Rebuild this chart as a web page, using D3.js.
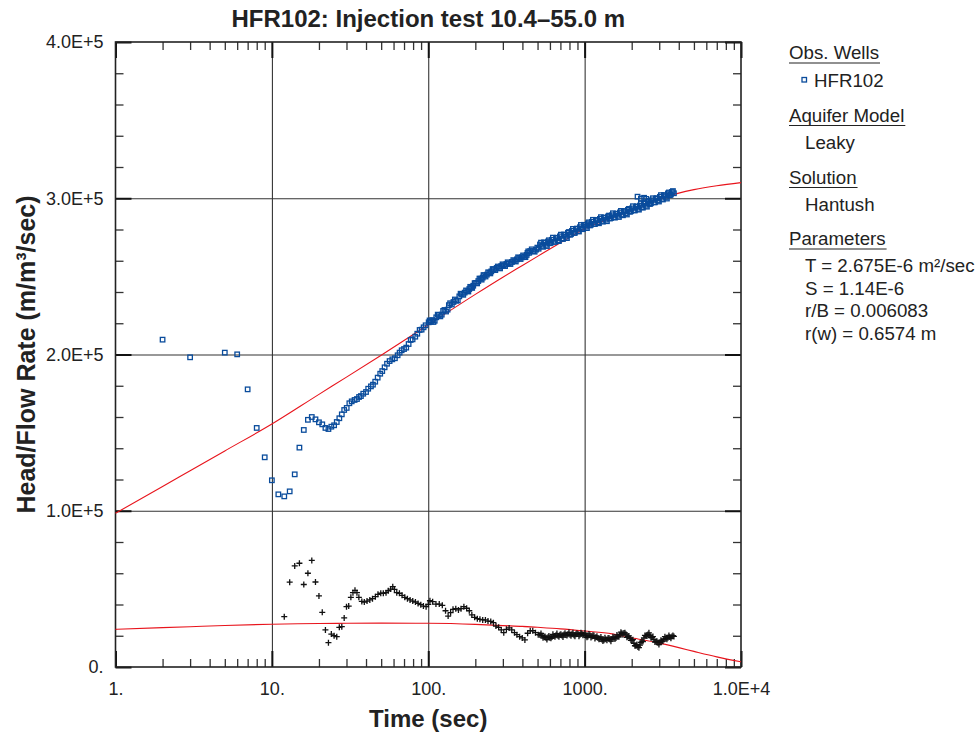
<!DOCTYPE html>
<html lang="en">
<head>
<meta charset="UTF-8">
<title>HFR102: Injection test</title>
<script src="https://cdn.jsdelivr.net/npm/d3@7"></script>
<style>
  body { margin: 0; background: #fff; }
  svg text { font-family: "Liberation Sans", Arial, sans-serif; fill: #222; }
</style>
</head>
<body>
<svg id="chart" width="978" height="736"></svg>
<script>
// observed head / flow rate (time in sec, value in 1000 m/m3/sec)
var obsTime = [2, 3, 5, 6, 7, 8, 9, 10, 11, 12, 13, 14, 15, 16, 17, 18, 19, 20, 21, 22, 23, 24, 25, 26, 27, 28,
  29, 30.1, 31.3, 32.4, 33.8, 35, 36.1, 37.1, 38.4, 40, 41.3, 43, 44.3, 45.8, 47.5, 49.3, 50.8, 52.6, 54.5, 56.6,
  58.9, 61.2, 63.7, 65.6, 67.6, 70, 72.3, 74.9, 77.2, 79.4, 82.6, 85.1, 88.1, 90.7, 93.4, 96.2, 100.6, 104, 108,
  112.5, 117, 122, 127, 133, 138, 145, 151, 158, 164, 171, 178, 183, 188, 194, 202, 209, 216, 223, 228, 237, 246,
  253, 263, 274, 283, 293, 304, 316, 328, 343, 357, 369, 382, 397, 411, 426, 436, 449, 469, 489, 508,
  102, 106, 110, 115, 119.5, 124.5, 130, 135.5, 141.5, 148, 154.5, 161, 167.5, 174.5, 180.5, 185.5, 191, 198,
  205.5, 212.5, 219.5, 225.5, 232.5, 241.5, 249.5, 258, 268.5, 278.5, 288, 298.5, 310, 322, 335.5, 350, 363,
  375.5, 389.5, 404, 418.5, 431, 442.5, 459, 479, 498.5,
  518, 534, 550, 566, 583, 600, 618, 637, 656, 675, 695, 716, 738, 760, 782, 806, 830, 855, 880, 907, 934, 961,
  990, 1020, 1050, 1082, 1114, 1147, 1181, 1217, 1253, 1290, 1329, 1369, 1410, 1452, 1495, 1540, 1586, 1633,
  1682, 1732, 1784, 1837, 1892, 1949, 2007, 2067, 2129, 2192, 2258, 2325, 2395, 2466, 2540, 2616, 2694, 2775,
  2857, 2943, 3031, 3121, 3214, 3310, 3409, 3511, 3616, 3724,
  526, 542, 558, 574, 591, 609, 627, 646, 665, 685, 705, 727, 749, 771, 794, 818, 842, 867, 893, 920, 947, 975,
  1005, 1035, 1066, 1098, 1130, 1164, 1199, 1235, 1271, 1309, 1349, 1389, 1431, 1473, 1517, 1563, 1609, 1657,
  1707, 1758, 1810, 1864, 1920, 1978, 2037, 2097, 2160, 2225, 2291, 2360, 2430, 2503, 2578, 2655, 2734, 2816,
  2900, 2987, 3076, 3167, 3262, 3359, 3460, 3563, 3670,
  2180, 2290, 2400, 2480];
var obsHead = [209.5, 198.2, 201.2, 200.1, 177.7, 153.0, 134.2, 119.5, 110.5, 109.2, 112.4, 123.3, 140.4, 151.7,
  158.2, 160.0, 158.5, 156.6, 155.3, 153.0, 152.3, 153.8, 154.7, 156.8, 159.2, 161.7,
  164.5, 165.8, 168.8, 170.0, 170.9, 171.5, 172.8, 173.4, 174.9, 176.0, 178.1, 179.6, 180.7, 182.6, 185.2, 187.7,
  189.4, 191.8, 194.1, 195.8, 196.9, 197.6, 199.5, 201.2, 202.7, 203.5, 204.4, 206.7, 209.3, 209.7, 211.4, 213.3,
  215.7, 215.9, 217.4, 218.7, 220.6, 221.0, 220.8, 223.8, 225.3, 225.5, 228.5, 228.7, 232.8, 233.6, 234.4, 237.2,
  238.7, 239.6, 240.6, 241.9, 243.0, 244.0, 245.8, 247.0, 248.5, 249.2, 250.7, 251.1, 252.4, 253.2, 254.5, 255.4,
  255.4, 256.6, 257.1, 257.9, 258.4, 259.2, 259.8, 260.9, 261.8, 262.2, 262.6, 263.7, 266.0, 266.2, 266.2, 267.1, 267.7,
  221.8, 222.0, 221.6, 225.5, 224.4, 227.9, 227.5, 231.6, 232.0, 235.2, 234.6, 238.9, 238.2, 241.0, 240.3, 243.3,
  242.6, 245.7, 245.5, 248.6, 247.9, 250.8, 249.9, 252.6, 251.9, 254.7, 254.0, 256.3, 255.1, 257.7, 256.6, 259.0,
  257.9, 260.4, 259.5, 262.2, 261.1, 263.4, 262.3, 265.0, 265.1, 267.3, 265.8, 268.4,
  270.4, 269.5, 271.8, 270.2, 272.3, 271.2, 273.4, 272.1, 274.5, 273.2, 275.6, 274.3, 276.8, 275.4, 277.9, 276.6,
  279.1, 277.8, 280.3, 279.0, 281.5, 280.6, 283.0, 281.8, 283.9, 282.6, 284.9, 283.6, 285.8, 284.6, 286.8, 285.5,
  287.6, 286.3, 288.3, 287.0, 289.1, 287.9, 290.0, 288.8, 290.9, 289.6, 291.8, 290.5, 292.6, 291.3, 293.5, 292.3,
  294.4, 293.2, 295.3, 294.2, 296.5, 295.2, 297.6, 296.3, 298.7, 297.4, 299.8, 298.6, 300.9, 299.6, 302.0, 300.8,
  303.1, 302.0, 304.0, 303.2,
  271.6, 268.9, 271.4, 269.4, 273.1, 271.6, 274.8, 272.1, 274.7, 272.6, 276.7, 273.9, 276.5, 274.5, 278.4, 277.0,
  280.4, 277.9, 280.6, 278.7, 282.9, 280.2, 282.9, 280.9, 284.6, 283.1, 286.2, 283.5, 286.1, 284.0, 287.9, 285.0,
  287.5, 285.3, 288.9, 287.3, 290.4, 287.6, 290.1, 288.0, 291.9, 289.1, 291.6, 289.6, 293.2, 291.7, 294.9, 292.2,
  294.8, 292.7, 296.7, 294.0, 296.6, 294.6, 298.3, 296.8, 300.0, 297.4, 300.0, 297.9, 302.0, 299.2, 301.8, 299.8,
  303.7, 302.4, 304.6,
  301.0, 299.8, 300.3, 299.6];

// derivative of head (crosses), value in 1000 m/m3/sec
var derTime = [12, 13, 14, 15, 16, 17, 18, 19, 20, 21, 22, 23, 24, 25, 26, 27, 28, 29, 30, 31, 32, 33, 34, 35, 36,
  37.6, 39, 40.6, 42.3, 44, 45.9, 47.7, 49.7, 51.6, 53.7, 55.5, 57.5, 59.3, 60.8, 62.9, 65.4, 68, 70.8, 73.6, 76.5,
  79.6, 82.8, 86.1, 89.6, 93.1, 96.9, 100, 102.5, 106.7, 112, 117.6, 123, 129, 134, 139, 144, 150, 156, 162, 169,
  176, 183, 190, 198, 206, 214, 223, 232, 241, 251, 261, 271, 282, 293, 304, 316, 329, 342, 356, 369, 384, 399,
  415, 432, 449, 466, 485, 505,
  518, 534, 550, 566, 583, 600, 618, 637, 656, 675, 695, 716, 738, 760, 782, 806, 830, 855, 880, 907, 934, 961,
  990, 1020, 1050, 1082, 1114, 1147, 1181, 1217, 1253, 1290, 1329, 1369, 1410, 1452, 1495, 1540, 1586, 1633,
  1682, 1732, 1784, 1837, 1892, 1949, 2007, 2067, 2129, 2192, 2258, 2325, 2395, 2466, 2540, 2616, 2694, 2775,
  2857, 2943, 3031, 3121, 3214, 3310, 3409, 3511, 3616, 3724,
  526, 542, 558, 574, 591, 609, 627, 646, 665, 685, 705, 727, 749, 771, 794, 818, 842, 867, 893, 920, 947, 975,
  1005, 1035, 1066, 1098, 1130, 1164, 1199, 1235, 1271, 1309, 1349, 1389, 1431, 1473, 1517, 1563, 1609, 1657,
  1707, 1758, 1810, 1864, 1920, 1978, 2037, 2097, 2160, 2225, 2291, 2360, 2430, 2503, 2578, 2655, 2734, 2816,
  2900, 2987, 3076, 3167, 3262, 3359, 3460, 3563, 3670];
var derHead = [32.2, 54.3, 64.7, 66.4, 52.8, 60.0, 68.2, 54.4, 45.5, 35.0, 23.7, 15.6, 21.1, 20.0, 19.4, 25.4, 25.8,
  31.4, 38.6, 39.0, 44.6, 47.6, 49.1, 47.6, 44.6, 42.0, 41.6, 42.2, 42.9, 43.7, 45.0, 46.5, 47.2, 47.2, 47.6, 48.8,
  49.9, 51.4, 49.7, 47.6, 47.2, 45.9, 44.6, 43.7, 42.9, 42.2, 41.6, 40.7, 39.9, 39.0, 38.6, 40.1, 42.4, 41.8, 40.3,
  40.3, 39.5, 36.0, 32.6, 34.8, 36.9, 37.3, 36.5, 37.3, 38.6, 37.6, 36.0, 33.3, 31.8, 30.9, 30.5, 30.1, 30.1, 29.4,
  29.2, 28.4, 26.2, 25.4, 23.7, 22.0, 24.1, 25.0, 23.7, 22.0, 20.7, 19.4, 18.6, 17.3, 21.6, 23.2, 23.2, 22.0, 20.7,
  20.5, 20.0, 19.4, 18.8, 19.0, 18.8, 19.2, 19.8, 20.3, 20.0, 20.6, 20.2, 20.8, 20.5, 21.0, 20.6, 21.0, 20.4, 20.9,
  21.2, 20.7, 21.3, 20.6, 20.0, 19.6, 20.3, 19.5, 20.1, 19.0, 18.6, 18.0, 17.6, 17.2, 17.8, 18.4, 17.6, 17.9, 18.8,
  18.5, 19.6, 20.6, 21.6, 21.8, 21.0, 19.6, 18.4, 17.0, 15.2, 13.6, 12.8, 14.0, 16.6, 18.6, 20.0, 20.8, 20.2, 19.0,
  17.6, 16.4, 15.6, 15.8, 16.6, 17.6, 18.4, 18.8, 19.2, 19.6, 19.6,
  21.5, 18.7, 19.6, 17.6, 19.8, 18.4, 20.9, 19.3, 21.4, 19.3, 20.9, 19.2, 21.6, 20.2, 22.2, 20.0, 21.9, 19.7, 21.6,
  19.7, 21.9, 20.4, 21.7, 19.0, 21.2, 18.9, 20.3, 18.3, 19.7, 17.7, 19.2, 16.6, 18.7, 17.1, 18.5, 16.5, 19.3, 18.0,
  20.5, 19.3, 22.3, 20.7, 21.9, 19.0, 19.9, 17.1, 17.5, 13.6, 14.4, 12.4, 15.8, 16.3, 20.2, 19.8, 21.9, 18.8, 19.5,
  16.0, 16.5, 14.4, 17.1, 16.5, 19.4, 17.8, 20.2, 18.4, 20.1];

// Hantush fit curve and its derivative, value in 1000 m/m3/sec
var fitTime = [1, 2, 3, 5, 10, 20, 30, 50, 100, 200, 300, 400, 500, 700, 1000, 1500, 2000, 3000, 4000, 5000, 7000, 10000];
var fitHead = [98.4, 115.5, 125.6, 138.3, 155.5, 174.5, 185.5, 199.5, 219, 238.5, 249.5, 257, 262.8, 271.5, 280.5,
  287.5, 292.5, 299.5, 303.3, 305.5, 308, 310];
var fitDeriv = [24.1, 25.2, 25.8, 26.6, 27.4, 27.8, 28.0, 28.1, 28.0, 27.3, 26.5, 26.0, 25.4, 24.4, 23.0, 21.2,
  18.7, 15.3, 12.4, 10.0, 6.5, 3.3];

var xTicks = [1, 10, 100, 1000, 10000];
var xTickLabels = ["1.", "10.", "100.", "1000.", "1.0E+4"];
var yTicks = [0, 100000, 200000, 300000, 400000];
var yTickLabels = ["0.", "1.0E+5", "2.0E+5", "3.0E+5", "4.0E+5"];

var pL = 115.5, pR = 741, pT = 42, pB = 667;
var obsColor = "#0a4c9c";
var svg = d3.select("#chart");

var x = d3.scaleLog().domain([1, 10000]).range([pL, pR]);
var y = d3.scaleLinear().domain([0, 400000]).range([pB, pT]);

var minorX = [];
[1, 10, 100, 1000].forEach(function (d) {
  for (var k = 2; k <= 9; k++) minorX.push(k * d);
});
var minorY = d3.range(20000, 400000, 20000).filter(function (v) { return v % 100000 !== 0; });

function clean(g) { g.select(".domain").remove(); }

// grid
svg.append("g").attr("transform", "translate(0," + pB + ")")
  .call(d3.axisBottom(x).tickValues([10, 100, 1000]).tickSize(-(pB - pT)).tickFormat(""))
  .call(clean).selectAll("line").attr("stroke", "#222").attr("stroke-width", 1);
svg.append("g").attr("transform", "translate(" + pL + ",0)")
  .call(d3.axisLeft(y).tickValues([100000, 200000, 300000]).tickSize(-(pR - pL)).tickFormat(""))
  .call(clean).selectAll("line").attr("stroke", "#333").attr("stroke-width", 1.2);

// minor ticks (inward)
svg.append("g").attr("transform", "translate(0," + pB + ")")
  .call(d3.axisBottom(x).tickValues(minorX).tickSize(-8).tickFormat("")).call(clean)
  .selectAll("line").attr("stroke", "#333").attr("stroke-width", 1.3);
svg.append("g").attr("transform", "translate(0," + pT + ")")
  .call(d3.axisTop(x).tickValues(minorX).tickSize(-8).tickFormat("")).call(clean)
  .selectAll("line").attr("stroke", "#333").attr("stroke-width", 1.3);
svg.append("g").attr("transform", "translate(" + pL + ",0)")
  .call(d3.axisLeft(y).tickValues(minorY).tickSize(-8).tickFormat("")).call(clean)
  .selectAll("line").attr("stroke", "#333").attr("stroke-width", 1.3);
svg.append("g").attr("transform", "translate(" + pR + ",0)")
  .call(d3.axisRight(y).tickValues(minorY).tickSize(-8).tickFormat("")).call(clean)
  .selectAll("line").attr("stroke", "#333").attr("stroke-width", 1.3);

// major ticks (inward, heavier)
svg.append("g").attr("transform", "translate(0," + pB + ")")
  .call(d3.axisBottom(x).tickValues(xTicks).tickSize(-16).tickFormat("")).call(clean)
  .selectAll("line").attr("stroke", "#111").attr("stroke-width", 2);
svg.append("g").attr("transform", "translate(0," + pT + ")")
  .call(d3.axisTop(x).tickValues(xTicks).tickSize(-16).tickFormat("")).call(clean)
  .selectAll("line").attr("stroke", "#111").attr("stroke-width", 2);
svg.append("g").attr("transform", "translate(" + pL + ",0)")
  .call(d3.axisLeft(y).tickValues(yTicks).tickSize(-16).tickFormat("")).call(clean)
  .selectAll("line").attr("stroke", "#111").attr("stroke-width", 2);
svg.append("g").attr("transform", "translate(" + pR + ",0)")
  .call(d3.axisRight(y).tickValues(yTicks).tickSize(-16).tickFormat("")).call(clean)
  .selectAll("line").attr("stroke", "#111").attr("stroke-width", 2);

// frame
svg.append("rect").attr("x", pL).attr("y", pT).attr("width", pR - pL).attr("height", pB - pT)
  .attr("fill", "none").attr("stroke", "#222").attr("stroke-width", 1.6);

// tick labels
svg.append("g").attr("transform", "translate(0," + pB + ")")
  .call(d3.axisBottom(x).tickValues(xTicks).tickSize(0).tickPadding(15)
    .tickFormat(function (d, i) { return xTickLabels[i]; }))
  .call(clean).selectAll("text").attr("font-size", 18).attr("font-family", "Liberation Sans, Arial, sans-serif");
svg.append("g").attr("transform", "translate(" + pL + ",0)")
  .call(d3.axisLeft(y).tickValues(yTicks).tickSize(0).tickPadding(12)
    .tickFormat(function (d, i) { return yTickLabels[i]; }))
  .call(clean).selectAll("text").attr("font-size", 18).attr("font-family", "Liberation Sans, Arial, sans-serif");

// fit curves
var fitLine = d3.line().x(function (d) { return x(d[0]); }).y(function (d) { return y(d[1] * 1000); })
  .curve(d3.curveMonotoneX);
svg.append("path").datum(fitTime.map(function (t, i) { return [t, fitHead[i]]; }))
  .attr("d", fitLine).attr("fill", "none").attr("stroke", "#e8141c").attr("stroke-width", 1.1);
svg.append("path").datum(fitTime.map(function (t, i) { return [t, fitDeriv[i]]; }))
  .attr("d", fitLine).attr("fill", "none").attr("stroke", "#e8141c").attr("stroke-width", 1.1);

// derivative crosses
svg.append("g").selectAll("path").data(derTime).join("path")
  .attr("d", function (t, i) {
    var cx = x(t), cy = y(derHead[i] * 1000);
    return "M" + (cx - 3) + "," + cy + "H" + (cx + 3) + "M" + cx + "," + (cy - 3) + "V" + (cy + 3);
  })
  .attr("stroke", "#111").attr("stroke-width", 1.3).attr("fill", "none");

// observed squares
svg.append("g").selectAll("rect").data(obsTime).join("rect")
  .attr("x", function (t) { return x(t) - 2.25; })
  .attr("y", function (t, i) { return y(obsHead[i] * 1000) - 2.25; })
  .attr("width", 4.5).attr("height", 4.5)
  .attr("fill", "none").attr("stroke", obsColor).attr("stroke-width", 1.3);

// titles
svg.append("text").attr("x", (pL + pR) / 2).attr("y", 27).attr("text-anchor", "middle")
  .attr("font-size", 24).attr("font-weight", "bold").text("HFR102: Injection test 10.4\u201355.0 m");
svg.append("text").attr("x", (pL + pR) / 2).attr("y", 727).attr("text-anchor", "middle")
  .attr("font-size", 24).attr("font-weight", "bold").text("Time (sec)");
svg.append("text").attr("transform", "translate(35," + ((pT + pB) / 2) + ") rotate(-90)")
  .attr("text-anchor", "middle").attr("font-size", 25).attr("font-weight", "bold")
  .text("Head/Flow Rate (m/m\u00b3/sec)");

// legend
var lg = svg.append("g").attr("font-size", 18.7);
function heading(txt, yb) {
  var t = lg.append("text").attr("x", 789).attr("y", yb).text(txt);
  var w = t.node().getComputedTextLength();
  lg.append("line").attr("x1", 789).attr("x2", 789 + w + 1).attr("y1", yb + 4).attr("y2", yb + 4)
    .attr("stroke", "#222").attr("stroke-width", 1.2);
}
function item(txt, yb, xo) {
  lg.append("text").attr("x", xo || 805).attr("y", yb).text(txt);
}
heading("Obs. Wells", 59);
lg.append("rect").attr("x", 802).attr("y", 77.5).attr("width", 4.5).attr("height", 4.5)
  .attr("fill", "none").attr("stroke", obsColor).attr("stroke-width", 1.3);
item("HFR102", 87, 814);
heading("Aquifer Model", 121.5);
item("Leaky", 149);
heading("Solution", 183.5);
item("Hantush", 210.5);
heading("Parameters", 245);
item("T = 2.675E-6 m\u00b2/sec", 271.5);
item("S = 1.14E-6", 294.5);
item("r/B = 0.006083", 317);
item("r(w) = 0.6574 m", 340);
</script>
</body>
</html>
